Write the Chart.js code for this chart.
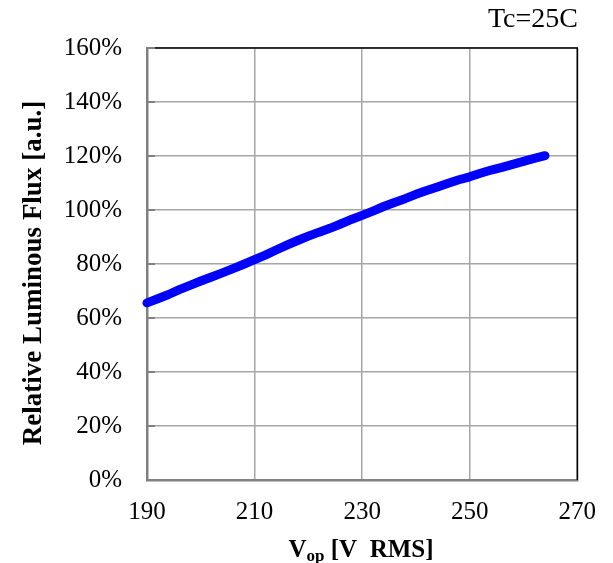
<!DOCTYPE html>
<html>
<head>
<meta charset="utf-8">
<script src="https://cdn.jsdelivr.net/npm/chart.js@4.4.1/dist/chart.umd.min.js"></script>
<style>
  html, body { margin: 0; padding: 0; background: #fff; }
  #wrap { width: 613px; height: 563px; }
</style>
</head>
<body>
<div id="wrap"><canvas id="fluxChart" width="613" height="563"></canvas></div>
<script>
/* --------------- Data ---------------------------------------- */
const voltage = [190, 192, 194, 196, 198, 200, 202, 204, 206, 208, 210, 212, 214, 216, 218,
  220, 222, 224, 226, 228, 230, 232, 234, 236, 238, 240, 242, 244, 246, 248, 250,
  252, 254, 256, 258, 260, 262, 264];
const fluxPct = [65.6, 67.1, 68.7, 70.5, 72.1, 73.7, 75.2, 76.7, 78.3, 79.9, 81.6, 83.3, 85.2, 87.0, 88.7,
  90.3, 91.8, 93.2, 94.8, 96.5, 98.0, 99.6, 101.3, 102.8, 104.2, 105.8, 107.2, 108.5, 109.9, 111.2, 112.3,
  113.6, 114.8, 115.8, 116.9, 118.0, 119.1, 120.1];
const xTicks = [190, 210, 230, 250, 270];
const yTicks = [0, 20, 40, 60, 80, 100, 120, 140, 160];
const noteText = "Tc=25C";
const yTitle = "Relative Luminous Flux [a.u.]";

const serif = "'Liberation Serif', 'Times New Roman', serif";

/* --------------- Frame, labels and note --------------------- */
const decorPlugin = {
  id: "decor",
  afterDraw(chart) {
    const { ctx, chartArea: a } = chart;
    ctx.save();
    // black top + right border
    ctx.strokeStyle = "#000";
    ctx.lineWidth = 1.5;
    ctx.beginPath();
    ctx.moveTo(a.left, a.top);
    ctx.lineTo(a.right, a.top);
    ctx.lineTo(a.right, a.bottom);
    ctx.stroke();
    // short inner ticks on the left axis
    ctx.strokeStyle = "#808080";
    ctx.lineWidth = 2;
    const ys = chart.scales.y;
    yTicks.forEach(v => {
      const py = ys.getPixelForValue(v);
      ctx.beginPath();
      ctx.moveTo(a.left, py);
      ctx.lineTo(a.left + 8, py);
      ctx.stroke();
    });
    // note top right
    ctx.fillStyle = "#000";
    ctx.font = "28px " + serif;
    ctx.textAlign = "right";
    ctx.textBaseline = "alphabetic";
    ctx.fillText(noteText, 578, 27);
    // y title
    ctx.save();
    ctx.translate(41, 273);
    ctx.rotate(-Math.PI / 2);
    ctx.font = "bold 27px " + serif;
    ctx.textAlign = "center";
    ctx.fillText(yTitle, 0, 0);
    ctx.restore();
    // x title with subscript
    const big = "bold 25px " + serif, small = "bold 17px " + serif;
    ctx.textAlign = "left";
    ctx.font = big;
    const wV = ctx.measureText("V").width;
    const wRest = ctx.measureText(" [V  RMS]").width;
    ctx.font = small;
    const wSub = ctx.measureText("op").width;
    let x0 = 361 - (wV + wSub + wRest) / 2;
    const base = 557;
    ctx.font = big;
    ctx.fillText("V", x0, base);
    ctx.font = small;
    ctx.fillText("op", x0 + wV, base + 4);
    ctx.font = big;
    ctx.fillText(" [V  RMS]", x0 + wV + wSub, base);
    ctx.restore();
  }
};

new Chart(document.getElementById("fluxChart"), {
  type: "line",
  data: {
    datasets: [{
      data: voltage.map((v, i) => ({ x: v, y: fluxPct[i] })),
      borderColor: "#0000ff",
      backgroundColor: "#0000ff",
      borderWidth: 9,
      borderCapStyle: "round",
      borderJoinStyle: "round",
      pointRadius: 0,
      tension: 0,
      clip: false
    }]
  },
  options: {
    responsive: false,
    animation: false,
    layout: { padding: { top: 48, right: 31, left: 0, bottom: 0 } },
    plugins: { legend: { display: false }, tooltip: { enabled: false } },
    scales: {
      x: {
        type: "linear",
        min: 190, max: 270,
        afterFit: s => { s.height = 83; },
        afterBuildTicks: s => { s.ticks = xTicks.map(v => ({ value: v })); },
        ticks: { color: "#000", font: { family: serif, size: 25 }, padding: 17, maxRotation: 0 },
        grid: { color: "#a6a6a6", lineWidth: 1.5, drawTicks: false },
        border: { color: "#808080", width: 2.5 }
      },
      y: {
        min: 0, max: 160,
        afterFit: s => { s.width = 147; },
        afterBuildTicks: s => { s.ticks = yTicks.map(v => ({ value: v })); },
        ticks: { color: "#000", font: { family: serif, size: 25 }, padding: 25, callback: v => v + "%" },
        grid: { color: "#a6a6a6", lineWidth: 1.5, drawTicks: false },
        border: { color: "#808080", width: 2.5 }
      }
    }
  },
  plugins: [decorPlugin]
});
</script>
</body>
</html>
